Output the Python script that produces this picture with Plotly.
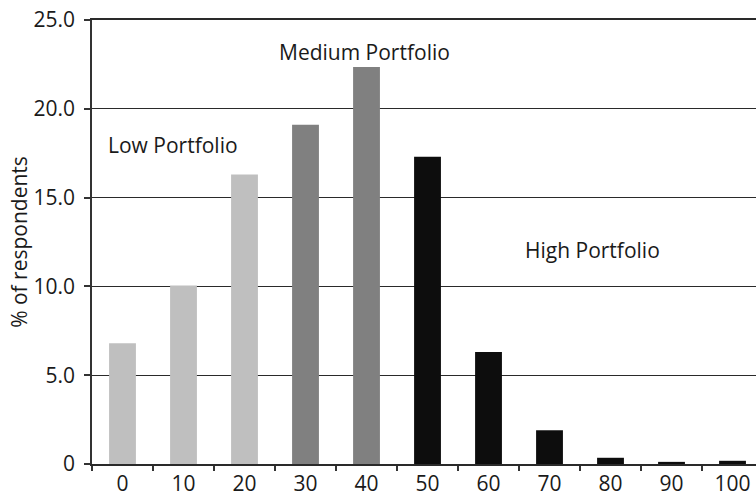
import plotly.graph_objects as go

categories = ["0", "10", "20", "30", "40", "50", "60", "70", "80", "90", "100"]
percent_respondents = [6.8, 10.05, 16.3, 19.1, 22.35, 17.3, 6.3, 1.9, 0.35, 0.12, 0.18]
portfolio_group = ["Low", "Low", "Low", "Medium", "Medium", "High", "High", "High", "High", "High", "High"]
y_tick_values = [0, 5, 10, 15, 20, 25]
y_tick_labels = ["0", "5.0", "10.0", "15.0", "20.0", "25.0"]

group_colors = {"Low": "#bfbfbf", "Medium": "#808080", "High": "#0d0d0d"}
FONT = "Open Sans"
FS = 21

fig = go.Figure()
fig.add_trace(go.Bar(
    x=categories,
    y=percent_respondents,
    marker=dict(color=[group_colors[g] for g in portfolio_group], line=dict(width=0)),
    width=0.44,
    showlegend=False,
    hoverinfo="x+y",
))

labels = [("Low Portfolio", 0.83, 17.98), ("Medium Portfolio", 3.975, 23.2), ("High Portfolio", 7.70, 12.07)]
for text, xv, yv in labels:
    fig.add_annotation(x=xv, y=yv, xref="x", yref="y", text=text, showarrow=False,
                       font=dict(family=FONT, size=FS, color="#1a1a1a"))

fig.update_layout(
    width=756, height=497,
    margin=dict(l=92, r=0, t=20, b=33),
    paper_bgcolor="white", plot_bgcolor="white",
    font=dict(family=FONT, size=FS, color="#1a1a1a"),
    bargap=0.56,
)
fig.update_xaxes(
    type="category",
    range=[-0.5, 10.385],
    showgrid=False,
    showline=True, linecolor="#2a2a2a", linewidth=1.5, mirror=True,
    ticks="outside", tickson="boundaries", ticklen=5, tickwidth=1.5, tickcolor="#333333",
    tickfont=dict(family=FONT, size=FS, color="#1a1a1a"),
    zeroline=False,
    automargin=False,
)
fig.update_yaxes(
    range=[0, 25],
    tickvals=y_tick_values, ticktext=y_tick_labels,
    showgrid=True, gridcolor="#2a2a2a", gridwidth=1.2,
    showline=True, linecolor="#333333", linewidth=1.5,
    ticks="outside", ticklen=6, tickwidth=1.5, tickcolor="#333333",
    ticklabelstandoff=5, ticklabeloverflow="allow",
    tickfont=dict(family=FONT, size=FS, color="#1a1a1a"),
    zeroline=False,
    automargin=False,
    title=dict(text="% of respondents", font=dict(family=FONT, size=FS, color="#1a1a1a"), standoff=0),
)

# remove the default 8px page margin so the figure fills the window exactly
fig.write_html("out.html", config={"displayModeBar": False},
               post_script="document.body.style.margin='0';")
